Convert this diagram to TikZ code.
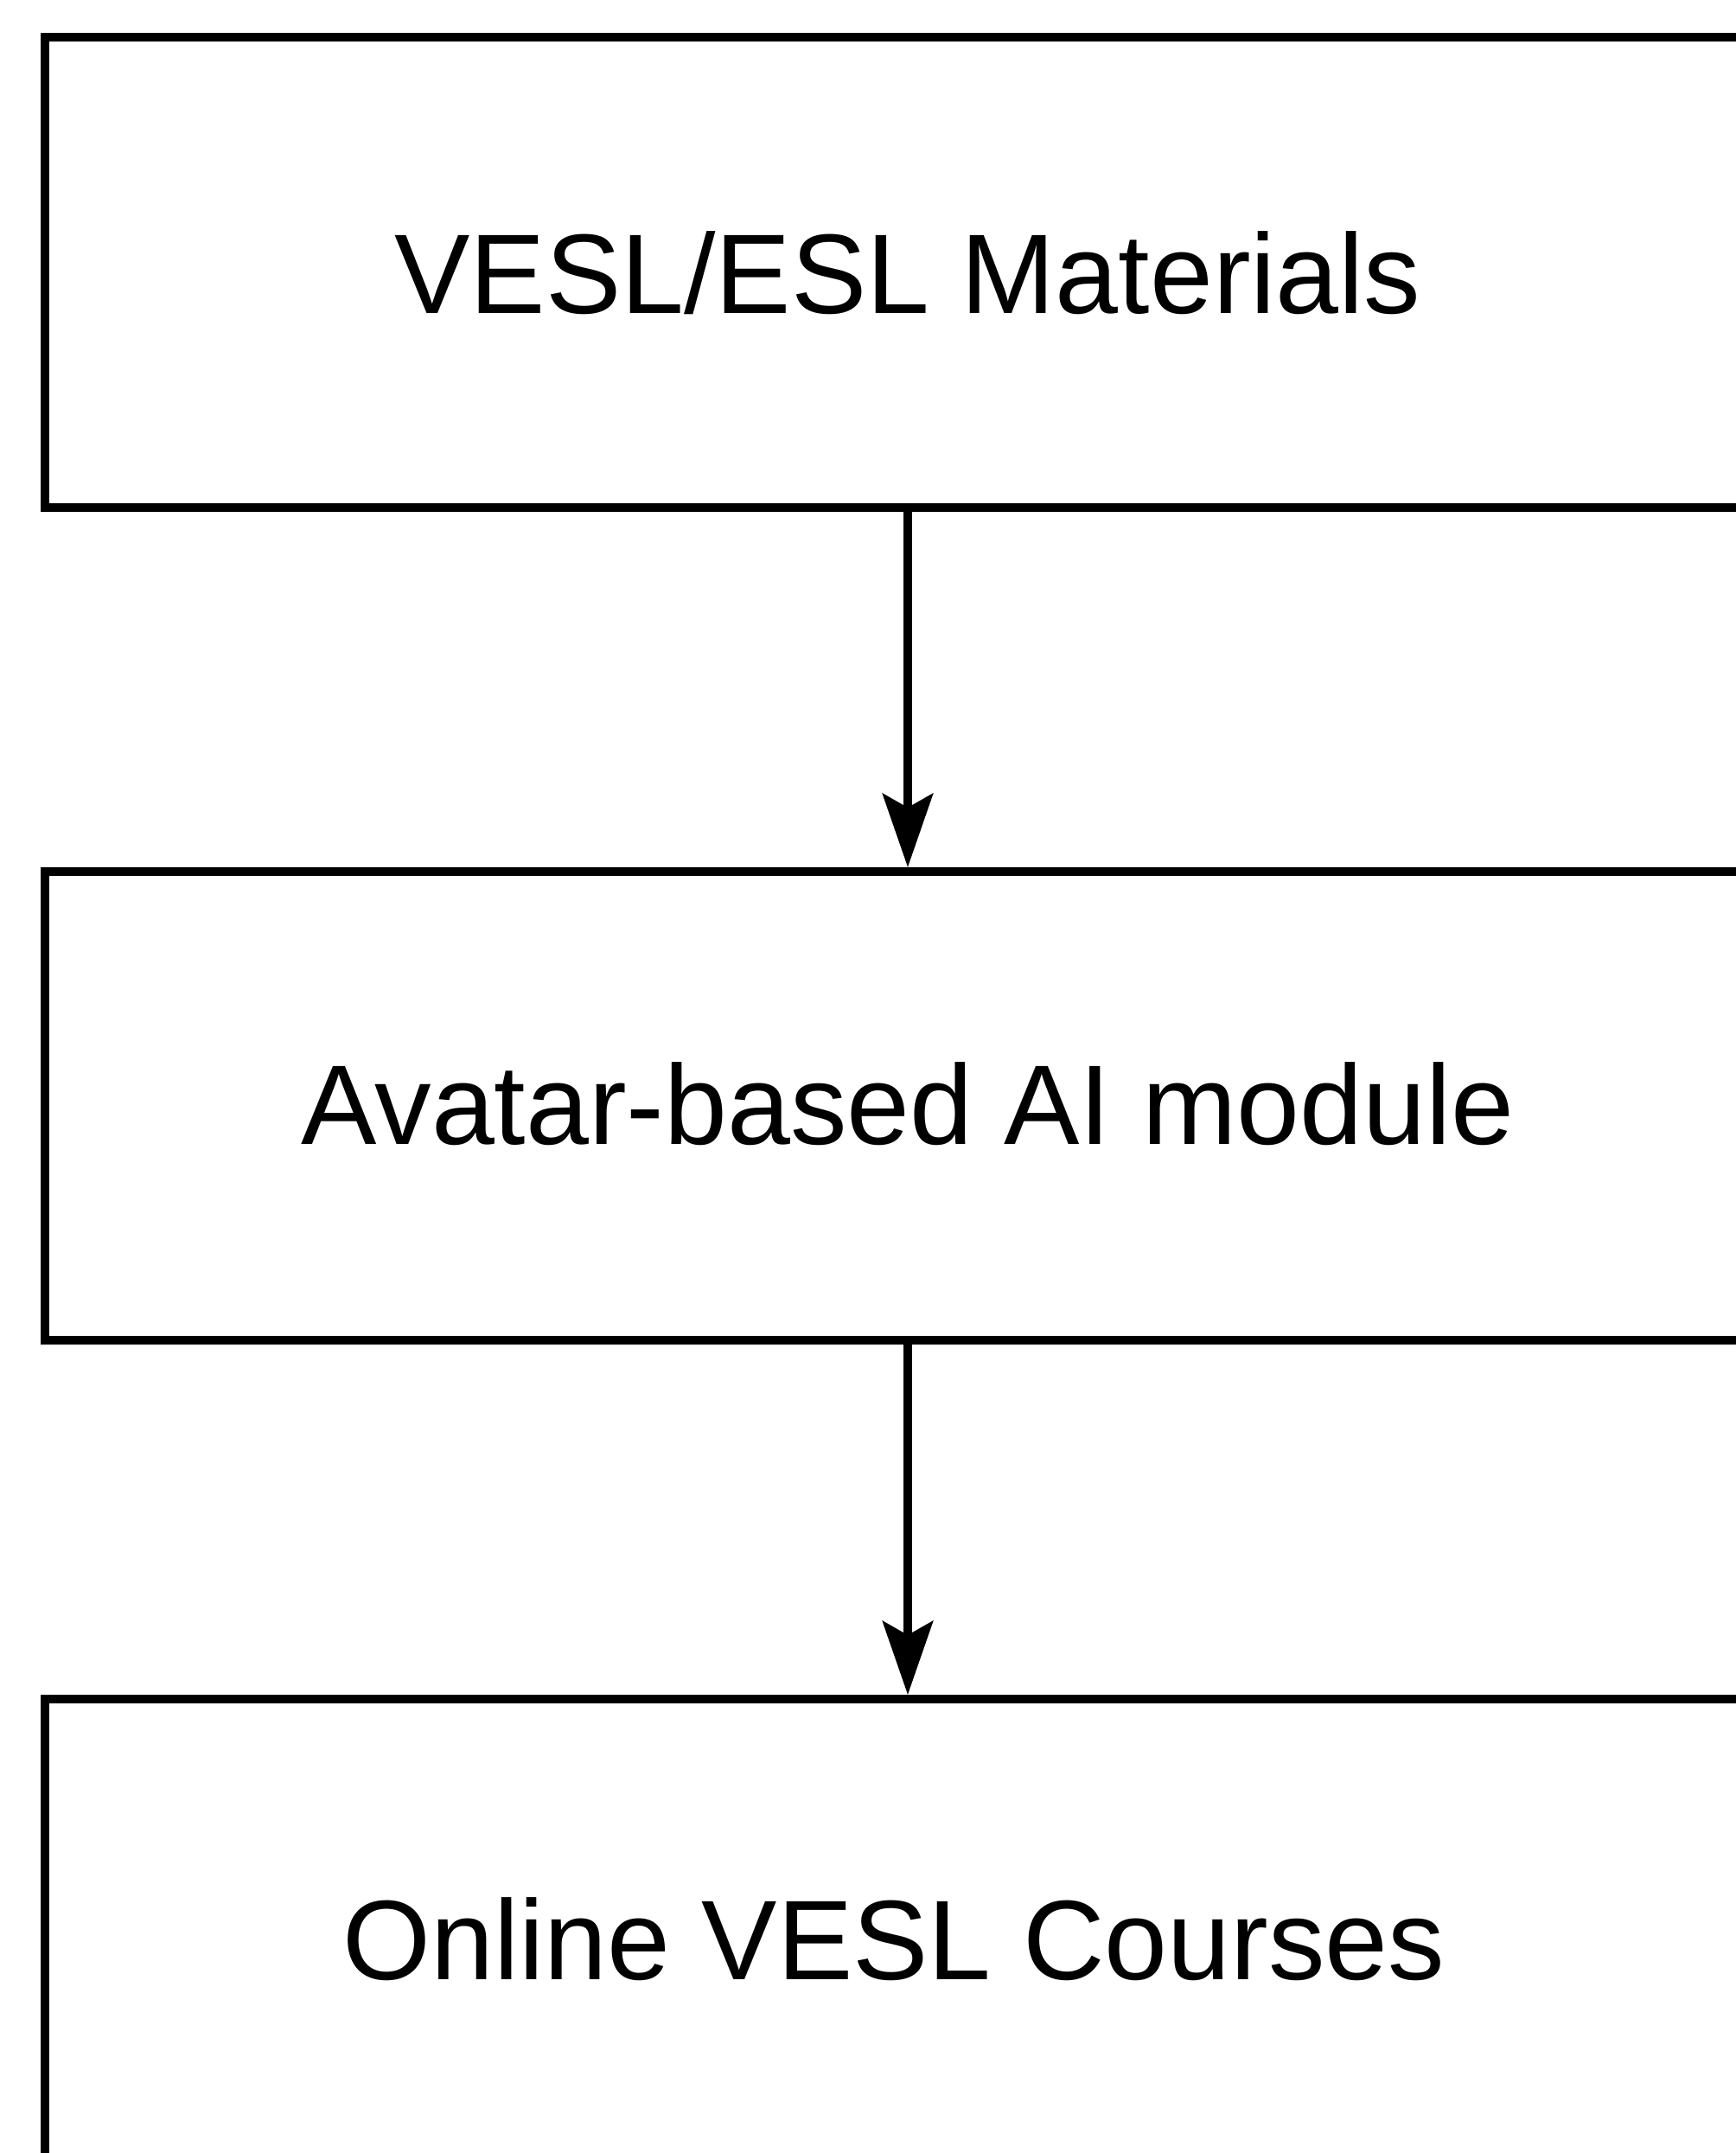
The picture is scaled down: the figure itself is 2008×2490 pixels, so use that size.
\documentclass[tikz,border=0pt]{standalone}
\usepackage{fontspec}
\setmainfont{Liberation Sans}
\usetikzlibrary{arrows.meta}
\begin{document}
\begin{tikzpicture}[x=1pt,y=-1pt,
  box/.style={draw=black,line width=10pt,rectangle,minimum width=1996pt,inner sep=0pt},
  label/.style={anchor=base,inner sep=0pt,font=\fontsize{131}{150}\selectfont},
  conn/.style={draw=black,line width=10pt,-{Stealth[width=58pt,length=85pt,inset=16pt]}}]
\useasboundingbox (0,0) rectangle (2008,2490);
\clip (0,0) rectangle (2008,2490);
\fill[white] (0,0) rectangle (2008,2490);
\node[box,minimum height=544pt] (b1) at (1050,315) {};
\node[box,minimum height=542pt] (b2) at (1050,1279) {};
\node[box,minimum height=542pt] (b3) at (1050,2236) {};
\node[label] (t1) at (1050,362) {VESL/ESL Materials};
\node[label] (t2) at (1050,1323) {Avatar-based AI module};
\node[label] (t3) at (1034,2289) {Online VESL Courses};
\draw[conn] (b1.south) -- (b2.north);
\draw[conn] (b2.south) -- (b3.north);
\end{tikzpicture}
\end{document}
